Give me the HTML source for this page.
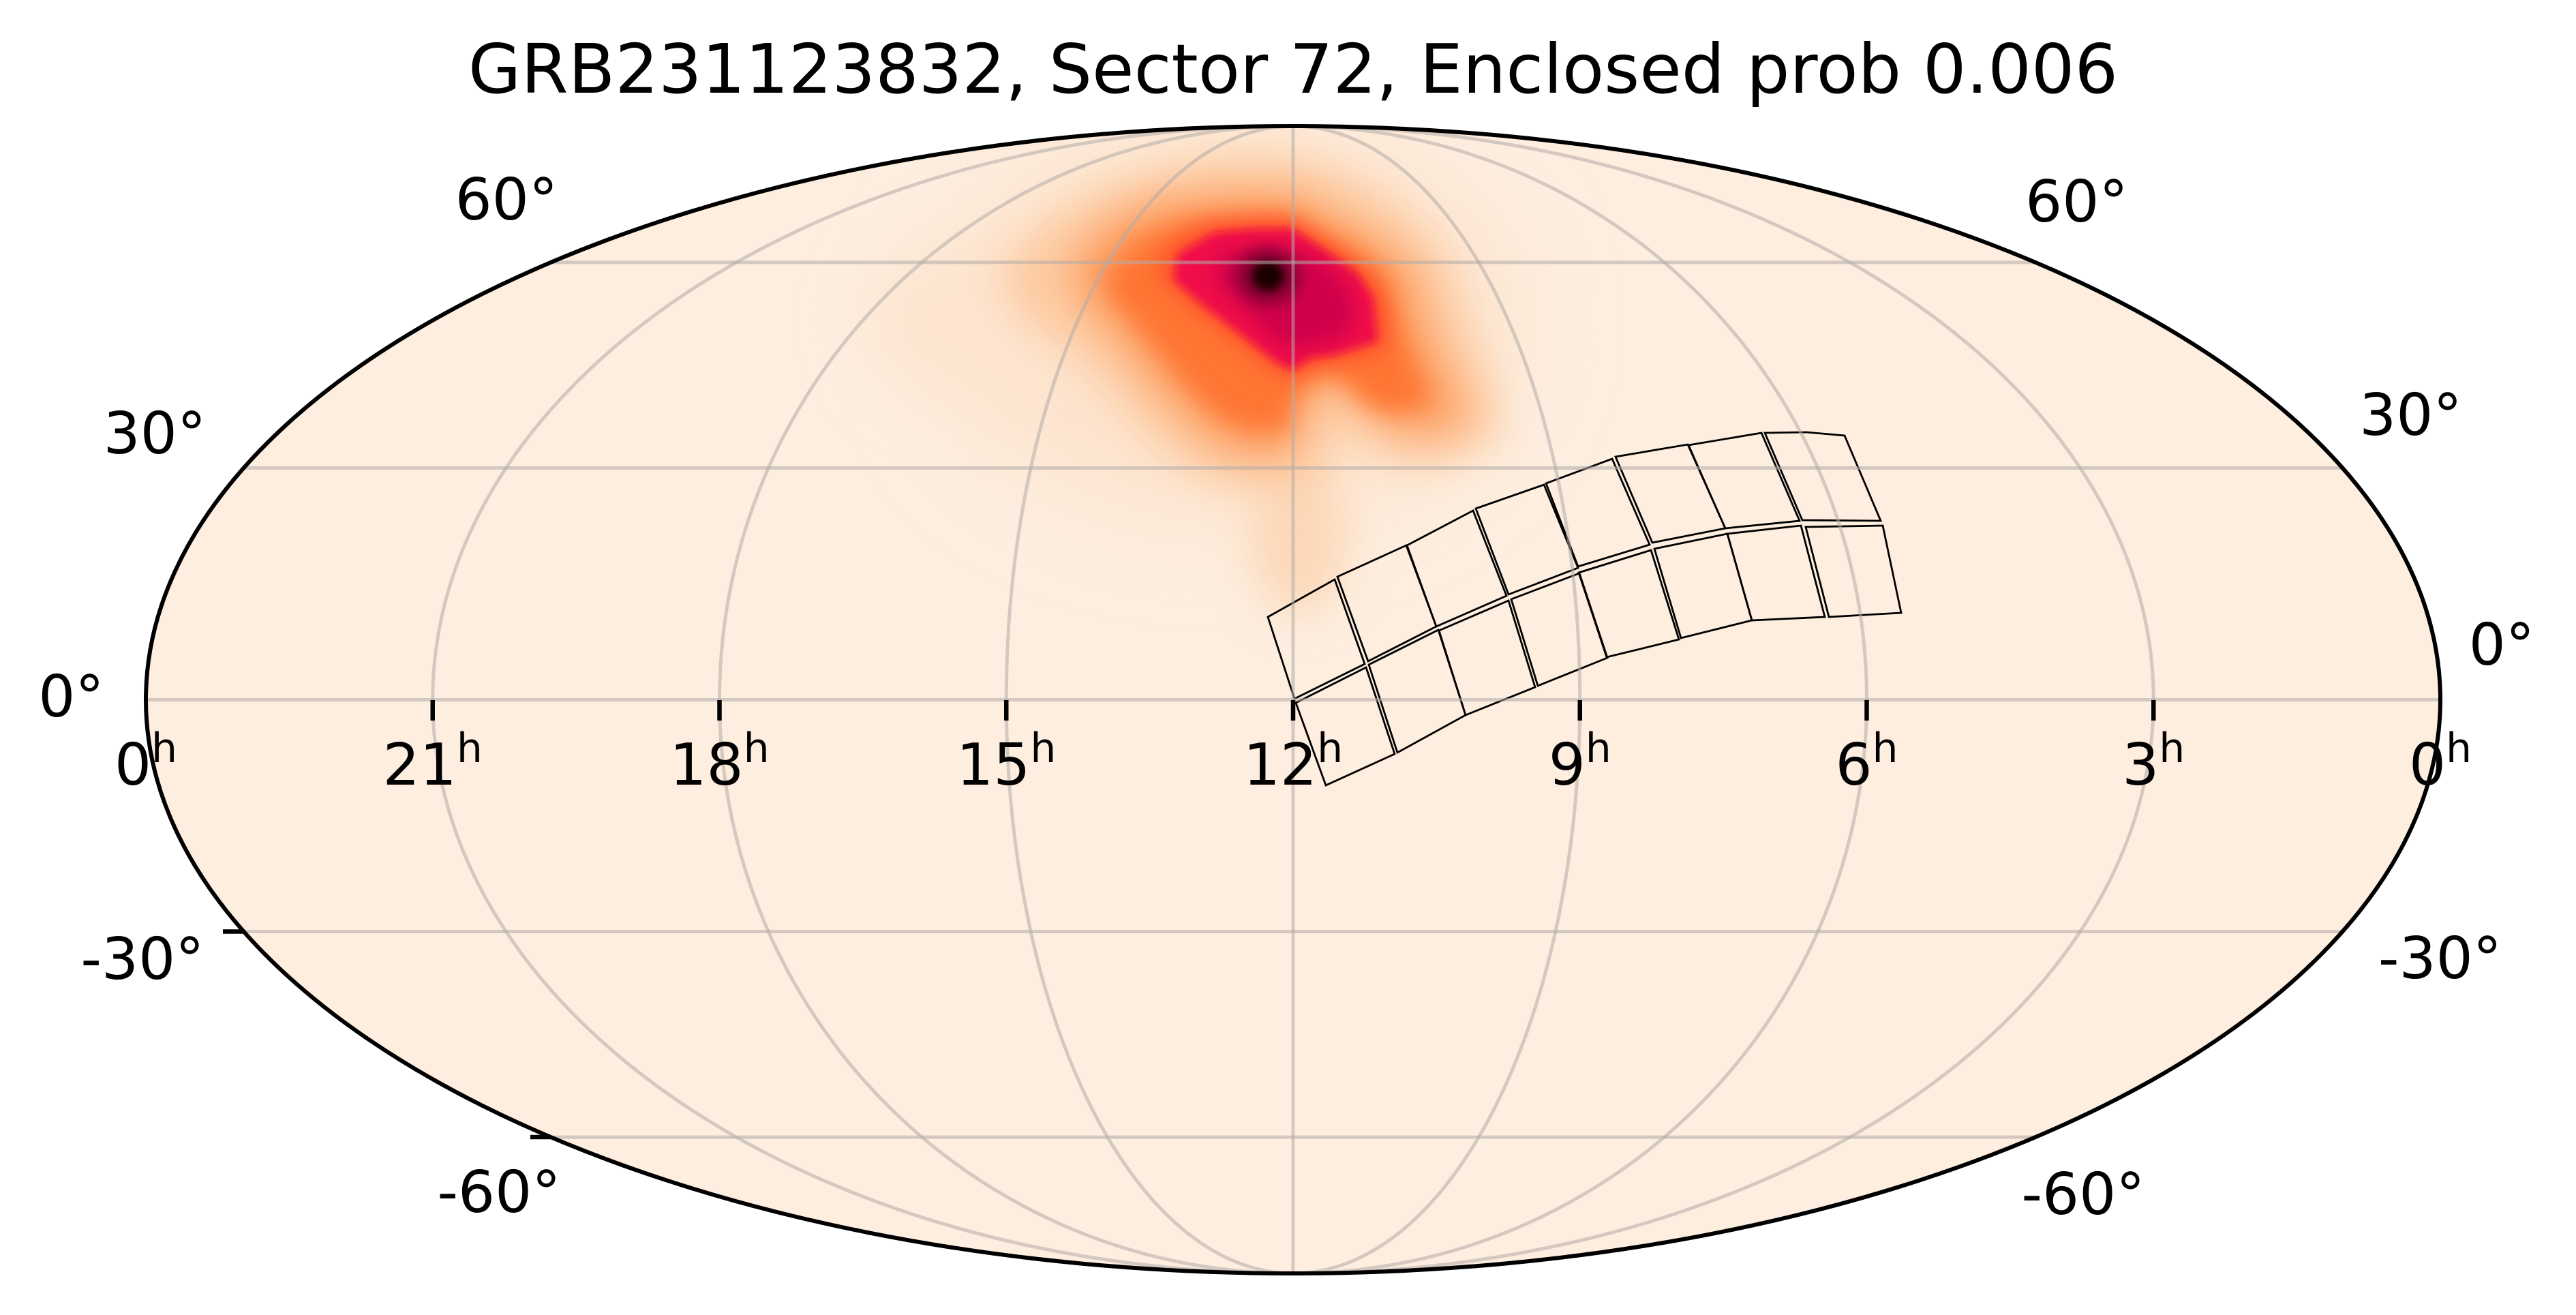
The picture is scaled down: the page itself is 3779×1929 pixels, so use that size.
<!DOCTYPE html>
<html><head><meta charset="utf-8"><style>
html,body{margin:0;padding:0;background:#fff;}
svg{display:block;}
text{font-family:"DejaVu Sans","Liberation Sans",sans-serif;fill:#000;}
</style></head><body>
<svg width="3779" height="1929" viewBox="0 0 3779 1929" xmlns="http://www.w3.org/2000/svg">
<defs>
<clipPath id="clip"><ellipse cx="1897" cy="1026.5" rx="1683" ry="841.5"/></clipPath>
<filter id="f70" x="-100%" y="-100%" width="300%" height="300%"><feGaussianBlur stdDeviation="70"/></filter>
<filter id="f45" x="-100%" y="-100%" width="300%" height="300%"><feGaussianBlur stdDeviation="45"/></filter>
<filter id="f30" x="-100%" y="-100%" width="300%" height="300%"><feGaussianBlur stdDeviation="30"/></filter>
<filter id="f22" x="-100%" y="-100%" width="300%" height="300%"><feGaussianBlur stdDeviation="22"/></filter>
<filter id="f15" x="-100%" y="-100%" width="300%" height="300%"><feGaussianBlur stdDeviation="15"/></filter>
<filter id="f10" x="-100%" y="-100%" width="300%" height="300%"><feGaussianBlur stdDeviation="10"/></filter>
<filter id="f6" x="-100%" y="-100%" width="300%" height="300%"><feGaussianBlur stdDeviation="6"/></filter>
</defs>
<rect width="3779" height="1929" fill="#fff"/>
<text x="1897" y="136" font-size="100" text-anchor="middle">GRB231123832, Sector 72, Enclosed prob 0.006</text>

<g clip-path="url(#clip)">
<ellipse cx="1897" cy="1026.5" rx="1683" ry="841.5" fill="#fdeee0"/>
<!-- heatmap -->
<ellipse cx="1800" cy="470" rx="420" ry="290" fill="#fde3cc" filter="url(#f70)"/>
<ellipse cx="1460" cy="470" rx="190" ry="120" fill="#fde5d0" filter="url(#f45)"/>
<ellipse cx="1905" cy="790" rx="70" ry="110" fill="#fcd8b8" filter="url(#f30)"/>
<polygon points="1460,400 1540,320 1650,265 1780,235 1900,235 2000,270 2080,330 2130,400 2150,480 2190,570 2200,640 2100,685 2010,660 1960,620 1940,700 1870,720 1760,700 1680,630 1600,540 1500,470" fill="#fdcba2" filter="url(#f30)"/>
<polygon points="1575,387 1629,327 1709,295 1803,286 1896,286 1957,318 2024,354 2071,396 2091,478 2124,556 2151,616 2091,635 2037,621 1990,570 1950,561 1910,593 1896,662 1836,667 1776,644 1722,593 1669,529 1615,465 1575,419" fill="#fd9a5c" filter="url(#f30)"/>
<polygon transform="translate(1860 470) scale(0.82) translate(-1860 -470)" points="1575,387 1629,327 1709,295 1803,286 1896,286 1957,318 2024,354 2071,396 2091,478 2124,556 2151,616 2091,635 2037,621 1990,570 1950,561 1910,593 1896,662 1836,667 1776,644 1722,593 1669,529 1615,465 1575,419" fill="#ff7433" filter="url(#f22)"/>
<polygon transform="translate(1880 435) scale(1.12) translate(-1880 -435)" points="1729,373 1783,341 1843,336 1896,336 1937,364 1990,400 2014,437 2020,501 1957,520 1923,524 1896,543 1870,529 1823,492 1769,451 1722,410" fill="#ff4a2c" filter="url(#f15)"/>
<polygon points="1729,373 1783,341 1843,336 1896,336 1937,364 1990,400 2014,437 2020,501 1957,520 1923,524 1896,543 1870,529 1823,492 1769,451 1722,410" fill="#f00c4a" filter="url(#f6)"/>
<polygon points="1783,377 1843,364 1923,373 1970,410 1990,455 1970,497 1903,511 1870,501 1836,465 1789,419" fill="#cf004b" filter="url(#f15)"/>
<ellipse cx="1860" cy="405" rx="48" ry="42" fill="#8a0036" filter="url(#f10)"/>
<ellipse cx="1860" cy="405" rx="24" ry="22" fill="#1a0006" filter="url(#f6)"/>

<!-- footprint -->
<g fill="none" stroke="#000" stroke-width="2.8" stroke-linejoin="miter">
<polygon points="1860,905 1901,882 1958,850 2002,974 1899,1025"/>
<polygon points="1962,846 2063,800 2107,919 2007,970"/>
<polygon points="2064,800 2161,749 2210,874 2107,919"/>
<polygon points="2165,746 2265,711 2315,833 2213,872"/>
<polygon points="2268,709 2365,673 2420,799 2315,831"/>
<polygon points="2370,670 2476,652 2531,775 2424,796"/>
<polygon points="2477,653 2584,635 2640,764 2531,775"/>
<polygon points="2589,635 2650,634 2706,639 2759,764 2644,763"/>
<polygon points="1901,1031 2004,979 2046,1106 1945,1152"/>
<polygon points="2008,975 2110,924 2150,1049 2050,1104"/>
<polygon points="2111,925 2213,881 2252,1008 2150,1049"/>
<polygon points="2217,879 2317,841 2358,965 2256,1006"/>
<polygon points="2316,840 2422,807 2463,938 2357,964"/>
<polygon points="2427,805 2534,783 2570,910 2466,936"/>
<polygon points="2534,783 2642,771 2677,905 2570,910"/>
<polygon points="2649,773 2762,771 2789,899 2683,905"/>
</g>

<!-- grid -->
<g stroke="#b2aca8" stroke-opacity="0.55" stroke-width="5" fill="none">
<line x1="808" y1="384.9" x2="2986" y2="384.9"/>
<line x1="357.6" y1="686.5" x2="3436.4" y2="686.5"/>
<line x1="214" y1="1026.5" x2="3580" y2="1026.5"/>
<line x1="357.6" y1="1366.5" x2="3436.4" y2="1366.5"/>
<line x1="808" y1="1668.1" x2="2986" y2="1668.1"/>
<line x1="1897" y1="185" x2="1897" y2="1868"/>
<ellipse cx="1897" cy="1026.5" rx="420.75" ry="841.5"/>
<ellipse cx="1897" cy="1026.5" rx="841.5" ry="841.5"/>
<ellipse cx="1897" cy="1026.5" rx="1262.25" ry="841.5"/>
</g>
</g>

<ellipse cx="1897" cy="1026.5" rx="1683" ry="841.5" fill="none" stroke="#000" stroke-width="6"/>

<!-- ticks -->
<g stroke="#000" stroke-width="6.5">
<line x1="634.75" y1="1027" x2="634.75" y2="1057"/>
<line x1="1055.5" y1="1027" x2="1055.5" y2="1057"/>
<line x1="1476.25" y1="1027" x2="1476.25" y2="1057"/>
<line x1="1897" y1="1027" x2="1897" y2="1057"/>
<line x1="2317.75" y1="1027" x2="2317.75" y2="1057"/>
<line x1="2738.5" y1="1027" x2="2738.5" y2="1057"/>
<line x1="3159.25" y1="1027" x2="3159.25" y2="1057"/>
<line x1="327" y1="1366.5" x2="357.6" y2="1366.5"/>
<line x1="778" y1="1668" x2="808" y2="1668"/>
</g>

<!-- hour labels -->
<g font-size="85" text-anchor="middle">
<text x="214" y="1151">0<tspan font-size="60" dy="-33">h</tspan></text>
<text x="634.75" y="1151">21<tspan font-size="60" dy="-33">h</tspan></text>
<text x="1055.5" y="1151">18<tspan font-size="60" dy="-33">h</tspan></text>
<text x="1476.25" y="1151">15<tspan font-size="60" dy="-33">h</tspan></text>
<text x="1897" y="1151">12<tspan font-size="60" dy="-33">h</tspan></text>
<text x="2317.75" y="1151">9<tspan font-size="60" dy="-33">h</tspan></text>
<text x="2738.5" y="1151">6<tspan font-size="60" dy="-33">h</tspan></text>
<text x="3159.25" y="1151">3<tspan font-size="60" dy="-33">h</tspan></text>
<text x="3580" y="1151">0<tspan font-size="60" dy="-33">h</tspan></text>
</g>

<!-- latitude labels -->
<g font-size="85" text-anchor="middle">
<text x="743" y="322">60°</text>
<text x="227" y="665">30°</text>
<text x="104.5" y="1051">0°</text>
<text x="209" y="1436">-30°</text>
<text x="732" y="1778">-60°</text>
<text x="3046.5" y="325">60°</text>
<text x="3536.5" y="638">30°</text>
<text x="3670" y="975">0°</text>
<text x="3579.5" y="1435">-30°</text>
<text x="3056" y="1781">-60°</text>
</g>
</svg>
</body></html>
